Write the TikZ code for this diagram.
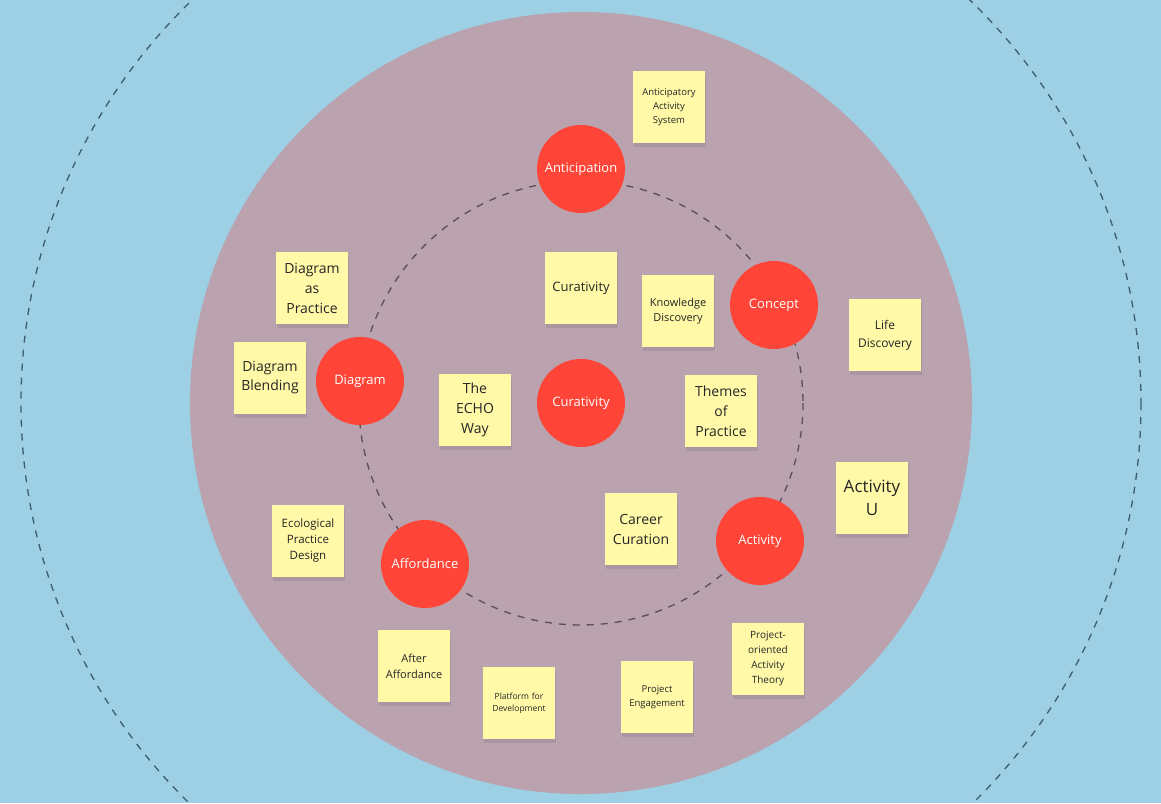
\documentclass[tikz,border=0pt]{standalone}
\usepackage{fontspec}
\setmainfont{Open Sans}
\usetikzlibrary{shadows}

\definecolor{bgblue}{HTML}{9DCFE5}
\definecolor{ringpink}{HTML}{BAA2AE}
\definecolor{hubred}{HTML}{FF4438}
\definecolor{noteyellow}{HTML}{FFF9A8}
\definecolor{outerdash}{HTML}{3D5C70}
\definecolor{innerdash}{HTML}{5E4C58}

\begin{document}
\begin{tikzpicture}[
  x=1pt, y=-1pt,
  hub/.style={circle, fill=hubred, text=white, minimum size=88pt, inner sep=0pt,
              font=\fontsize{13}{15}\selectfont},
  note/.style={fill=noteyellow, minimum width=72pt, minimum height=72pt, inner sep=2pt,
               text width=68pt, align=center, text=black!85,
               drop shadow={shadow xshift=1pt, shadow yshift=-4pt, opacity=.3}},
  ring/.style={dashed, line width=1.3pt, dash pattern=on 7pt off 7pt}
]
\useasboundingbox (0,0) rectangle (1161,803);
\fill[bgblue] (0,0) rectangle (1161,803);

% rings
\coordinate (centre) at (581,403);
\draw[ring, outerdash] (centre) circle[radius=560];
\fill[ringpink] (centre) circle[radius=391];
\draw[ring, innerdash] (centre) circle[radius=222];

% hubs
\node[hub] (anticipation) at (581,169) {Anticipation};
\node[hub] (concept)      at (774,305) {Concept};
\node[hub] (curativity)   at (581,403) {Curativity};
\node[hub] (diagram)      at (360,381) {Diagram};
\node[hub] (affordance)   at (425,564) {Affordance};
\node[hub] (activity)     at (760,541) {Activity};

% sticky notes
\node[note, font=\fontsize{9.5}{14}\selectfont] (antsys)   at (669,107) {Anticipatory\\Activity\\System};
\node[note, font=\fontsize{14}{20}\selectfont]  (diaprac)  at (312,288) {Diagram\\as\\Practice};
\node[note, font=\fontsize{14}{19}\selectfont]  (diablend) at (270,378) {Diagram\\Blending};
\node[note, font=\fontsize{13}{16}\selectfont]  (curnote)  at (581,288) {Curativity};
\node[note, font=\fontsize{11}{15}\selectfont]  (knowdisc) at (678,311) {Knowledge\\Discovery};
\node[note, font=\fontsize{12}{18}\selectfont]  (lifedisc) at (885,335) {Life\\Discovery};
\node[note, font=\fontsize{14}{20}\selectfont]  (echo)     at (475,410) {The\\ECHO\\Way};
\node[note, font=\fontsize{14}{20}\selectfont]  (themes)   at (721,411) {Themes\\of\\Practice};
\node[note, font=\fontsize{17}{23}\selectfont]  (actu)     at (872,498) {Activity\\U};
\node[note, font=\fontsize{11.5}{16}\selectfont](ecoprac)  at (308,541) {Ecological\\Practice\\Design};
\node[note, font=\fontsize{14}{20}\selectfont]  (career)   at (641,529) {Career\\Curation};
\node[note, font=\fontsize{11}{16}\selectfont]  (afteraff) at (414,666) {After\\Affordance};
\node[note, font=\fontsize{8.5}{12}\selectfont] (platform) at (519,703) {Platform for\\Development};
\node[note, font=\fontsize{9.5}{14}\selectfont] (projeng)  at (657,697) {Project\\Engagement};
\node[note, font=\fontsize{10}{15}\selectfont]  (projact)  at (768,659) {Project-\\oriented\\Activity\\Theory};
\end{tikzpicture}
\end{document}
